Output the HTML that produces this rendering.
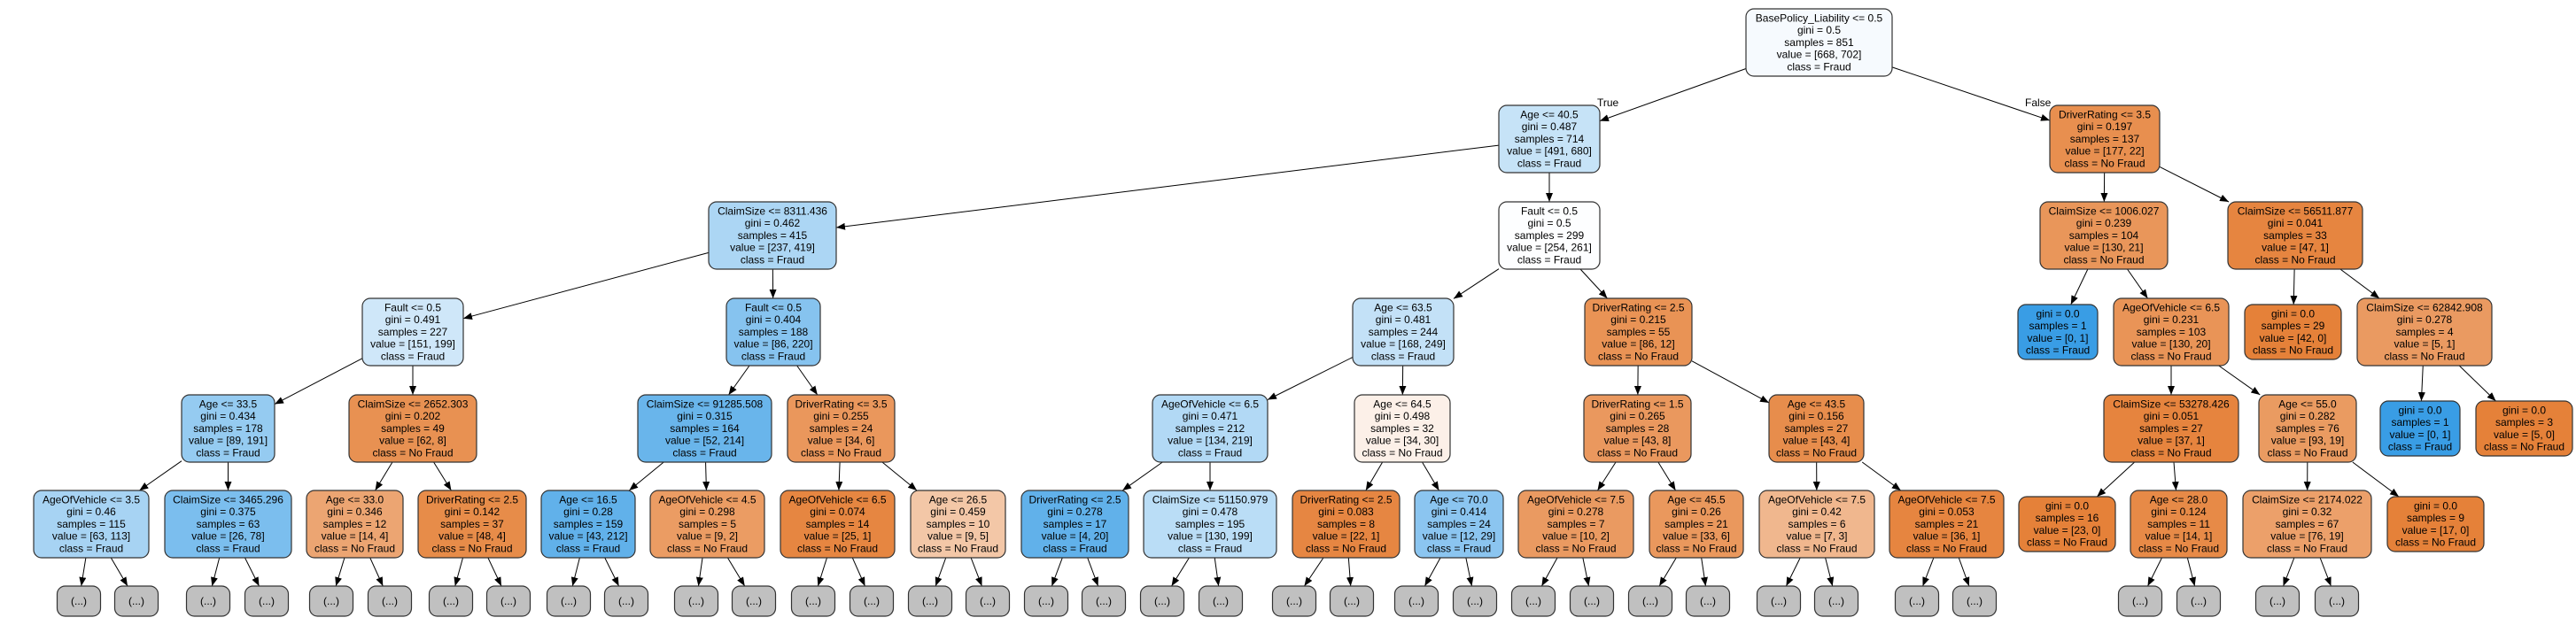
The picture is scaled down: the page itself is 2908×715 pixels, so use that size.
<!DOCTYPE html>
<html><head><meta charset="utf-8"><style>
html,body{margin:0;padding:0;background:#fff;}
svg{display:block;}
text{font-family:"Liberation Sans",Arial,sans-serif;font-size:12px;fill:#000;}
</style></head><body>
<svg id="s" width="2908" height="715" xmlns="http://www.w3.org/2000/svg">
<defs><marker id="ah" viewBox="0 0 10 8" refX="10" refY="4" markerWidth="10" markerHeight="8" markerUnits="userSpaceOnUse" orient="auto"><path d="M0,0L10,4L0,8z" fill="#000"/></marker></defs>
<text x="1803" y="120">True</text>
<text x="2286" y="120">False</text>
</svg>
<script>
(function(){
var T=[10,119,228,337,446,554];
var N={
r:[1971,2136,0,["BasePolicy_Liability <= 0.5","gini = 0.5","samples = 851","value = [668, 702]","class = Fraud"],"#f6fafe"],
a:[1692,1806,1,["Age <= 40.5","gini = 0.487","samples = 714","value = [491, 680]","class = Fraud"],"#c6e3f7"],
b:[2314,2438,1,["DriverRating <= 3.5","gini = 0.197","samples = 137","value = [177, 22]","class = No Fraud"],"#e88f4f"],
c:[800,944,2,["ClaimSize <= 8311.436","gini = 0.462","samples = 415","value = [237, 419]","class = Fraud"],"#acd6f4"],
d:[1692,1806,2,["Fault <= 0.5","gini = 0.5","samples = 299","value = [254, 261]","class = Fraud"],"#fdfeff"],
e:[2303,2447,2,["ClaimSize <= 1006.027","gini = 0.239","samples = 104","value = [130, 21]","class = No Fraud"],"#e9965a"],
f:[2515,2667,2,["ClaimSize <= 56511.877","gini = 0.041","samples = 33","value = [47, 1]","class = No Fraud"],"#e68540"],
g:[409,523,3,["Fault <= 0.5","gini = 0.491","samples = 227","value = [151, 199]","class = Fraud"],"#cfe7f9"],
h:[820,926,3,["Fault <= 0.5","gini = 0.404","samples = 188","value = [86, 220]","class = Fraud"],"#86c3ef"],
i:[1527,1641,3,["Age <= 63.5","gini = 0.481","samples = 244","value = [168, 249]","class = Fraud"],"#c3e1f7"],
j:[1789,1910,3,["DriverRating <= 2.5","gini = 0.215","samples = 55","value = [86, 12]","class = No Fraud"],"#e99355"],
k:[2278,2368,3,["gini = 0.0","samples = 1","value = [0, 1]","class = Fraud"],"#399de5"],
l:[2386,2516,3,["AgeOfVehicle <= 6.5","gini = 0.231","samples = 103","value = [130, 20]","class = No Fraud"],"#e99457"],
m:[2534,2643,3,["gini = 0.0","samples = 29","value = [42, 0]","class = No Fraud"],"#e58139"],
n:[2661,2813,3,["ClaimSize <= 62842.908","gini = 0.278","samples = 4","value = [5, 1]","class = No Fraud"],"#ea9a61"],
o:[205,310,4,["Age <= 33.5","gini = 0.434","samples = 178","value = [89, 191]","class = Fraud"],"#95cbf1"],
p:[394,538,4,["ClaimSize <= 2652.303","gini = 0.202","samples = 49","value = [62, 8]","class = No Fraud"],"#e89152"],
q:[720,871,4,["ClaimSize <= 91285.508","gini = 0.315","samples = 164","value = [52, 214]","class = Fraud"],"#69b5eb"],
t:[889,1010,4,["DriverRating <= 3.5","gini = 0.255","samples = 24","value = [34, 6]","class = No Fraud"],"#ea975c"],
u:[1301,1431,4,["AgeOfVehicle <= 6.5","gini = 0.471","samples = 212","value = [134, 219]","class = Fraud"],"#b2d9f5"],
v:[1529,1637,4,["Age <= 64.5","gini = 0.498","samples = 32","value = [34, 30]","class = No Fraud"],"#fcf0e8"],
w:[1788,1909,4,["DriverRating <= 1.5","gini = 0.265","samples = 28","value = [43, 8]","class = No Fraud"],"#ea985e"],
x:[1997,2104,4,["Age <= 43.5","gini = 0.156","samples = 27","value = [43, 4]","class = No Fraud"],"#e78d4c"],
y:[2375,2527,4,["ClaimSize <= 53278.426","gini = 0.051","samples = 27","value = [37, 1]","class = No Fraud"],"#e6843e"],
z:[2550,2660,4,["Age <= 55.0","gini = 0.282","samples = 76","value = [93, 19]","class = No Fraud"],"#ea9b61"],
A:[2687,2777,4,["gini = 0.0","samples = 1","value = [0, 1]","class = Fraud"],"#399de5"],
B:[2795,2904,4,["gini = 0.0","samples = 3","value = [5, 0]","class = No Fraud"],"#e58139"],
C:[38,168,5,["AgeOfVehicle <= 3.5","gini = 0.46","samples = 115","value = [63, 113]","class = Fraud"],"#a7d3f3"],
D:[186,329,5,["ClaimSize <= 3465.296","gini = 0.375","samples = 63","value = [26, 78]","class = Fraud"],"#7bbeee"],
E:[346,455,5,["Age <= 33.0","gini = 0.346","samples = 12","value = [14, 4]","class = No Fraud"],"#eca572"],
F:[472,594,5,["DriverRating <= 2.5","gini = 0.142","samples = 37","value = [48, 4]","class = No Fraud"],"#e78c49"],
G:[611,717,5,["Age <= 16.5","gini = 0.28","samples = 159","value = [43, 212]","class = Fraud"],"#61b1ea"],
H:[734,863,5,["AgeOfVehicle <= 4.5","gini = 0.298","samples = 5","value = [9, 2]","class = No Fraud"],"#eb9c63"],
I:[881,1010,5,["AgeOfVehicle <= 6.5","gini = 0.074","samples = 14","value = [25, 1]","class = No Fraud"],"#e68641"],
J:[1028,1135,5,["Age <= 26.5","gini = 0.459","samples = 10","value = [9, 5]","class = No Fraud"],"#f3c7a7"],
K:[1153,1274,5,["DriverRating <= 2.5","gini = 0.278","samples = 17","value = [4, 20]","class = Fraud"],"#61b1ea"],
L:[1291,1441,5,["ClaimSize <= 51150.979","gini = 0.478","samples = 195","value = [130, 199]","class = Fraud"],"#baddf6"],
M:[1459,1580,5,["DriverRating <= 2.5","gini = 0.083","samples = 8","value = [22, 1]","class = No Fraud"],"#e68642"],
O:[1597,1697,5,["Age <= 70.0","gini = 0.414","samples = 24","value = [12, 29]","class = Fraud"],"#8bc5f0"],
P:[1714,1844,5,["AgeOfVehicle <= 7.5","gini = 0.278","samples = 7","value = [10, 2]","class = No Fraud"],"#ea9a61"],
Q:[1862,1968,5,["Age <= 45.5","gini = 0.26","samples = 21","value = [33, 6]","class = No Fraud"],"#ea985d"],
R:[1986,2116,5,["AgeOfVehicle <= 7.5","gini = 0.42","samples = 6","value = [7, 3]","class = No Fraud"],"#f0b78e"],
S:[2133,2262,5,["AgeOfVehicle <= 7.5","gini = 0.053","samples = 21","value = [36, 1]","class = No Fraud"],"#e68540"],
U:[2279,2388,5,["gini = 0.0","samples = 16","value = [23, 0]","class = No Fraud"],"#e58139"],
V:[2405,2514,5,["Age <= 28.0","gini = 0.124","samples = 11","value = [14, 1]","class = No Fraud"],"#e78a47"],
W:[2532,2677,5,["ClaimSize <= 2174.022","gini = 0.32","samples = 67","value = [76, 19]","class = No Fraud"],"#eca06a"],
X:[2695,2804,5,["gini = 0.0","samples = 9","value = [17, 0]","class = No Fraud"],"#e58139"]
};
var ED=[["r","a"],["r","b"],["a","c"],["a","d"],["c","g"],["c","h"],["d","i"],["d","j"],["b","e"],["b","f"],["e","k"],["e","l"],["f","m"],["f","n"],
["g","o"],["g","p"],["h","q"],["h","t"],["i","u"],["i","v"],["j","w"],["j","x"],["l","y"],["l","z"],["n","A"],["n","B"],
["o","C"],["o","D"],["p","E"],["p","F"],["q","G"],["q","H"],["t","I"],["t","J"],["u","K"],["u","L"],["v","M"],["v","O"],["w","P"],["w","Q"],["x","R"],["x","S"],["y","U"],["y","V"],["z","W"],["z","X"]];
var leafP={C:[89,154],D:[235,301],E:[374,440],F:[509,574],G:[642,707],H:[786,851],I:[918,984],J:[1050,1115],K:[1181,1246],L:[1312,1378],M:[1461,1526],O:[1599,1665],P:[1731,1797],Q:[1863,1928],R:[2008,2073],S:[2164,2229],V:[2416,2482],W:[2571,2638]};
var BX={};
Object.keys(N).forEach(function(key){var nd=N[key];var four=nd[3].length==4;var yt=T[nd[2]]+(four?7:0);var hh=four?62:76;BX[key]={x1:nd[0],x2:nd[1],y1:yt,y2:yt+hh,lines:nd[3],c:nd[4]};});
var li=0;
Object.keys(leafP).forEach(function(pp){leafP[pp].forEach(function(cx){var kk="LF"+(li++);BX[kk]={x1:cx-24.5,x2:cx+24.5,y1:662,y2:696,lines:["(...)"],c:"#c0c0c0",leaf:1};ED.push([pp,kk]);});});
var svg=document.getElementById("s"),NS="http://www.w3.org/2000/svg";
function el(tg,at,txt){var q=document.createElementNS(NS,tg);for(var a in at)q.setAttribute(a,at[a]);if(txt!=null)q.textContent=txt;svg.appendChild(q);return q;}
function clip(b,cx,cy,dx,dy){var hw=(b.x2-b.x1)/2,hh=(b.y2-b.y1)/2;var tt=Math.min(dx?hw/Math.abs(dx):1e9,dy?hh/Math.abs(dy):1e9);return [cx+dx*tt,cy+dy*tt];}
ED.forEach(function(ed){var a=BX[ed[0]],b=BX[ed[1]];var ax=(a.x1+a.x2)/2,ay=(a.y1+a.y2)/2,bx=(b.x1+b.x2)/2,by=(b.y1+b.y2)/2;var dx=bx-ax,dy=by-ay;var p1=clip(a,ax,ay,dx,dy),p2=clip(b,bx,by,-dx,-dy);
el("line",{x1:p1[0],y1:p1[1],x2:p2[0],y2:p2[1],stroke:"#000","stroke-width":1,"marker-end":"url(#ah)"});});
Object.keys(BX).forEach(function(kk){var b=BX[kk];el("rect",{x:b.x1,y:b.y1,width:b.x2-b.x1,height:b.y2-b.y1,rx:9,ry:9,fill:b.c,stroke:"#333","stroke-width":1.2});
var cx=(b.x1+b.x2)/2;if(b.leaf){el("text",{x:cx,y:683,"text-anchor":"middle"},"(...)");}else{b.lines.forEach(function(tx,i){el("text",{x:cx,y:b.y1+14.5+i*13.7,"text-anchor":"middle"},tx);});}});
})();
</script>
</body></html>
